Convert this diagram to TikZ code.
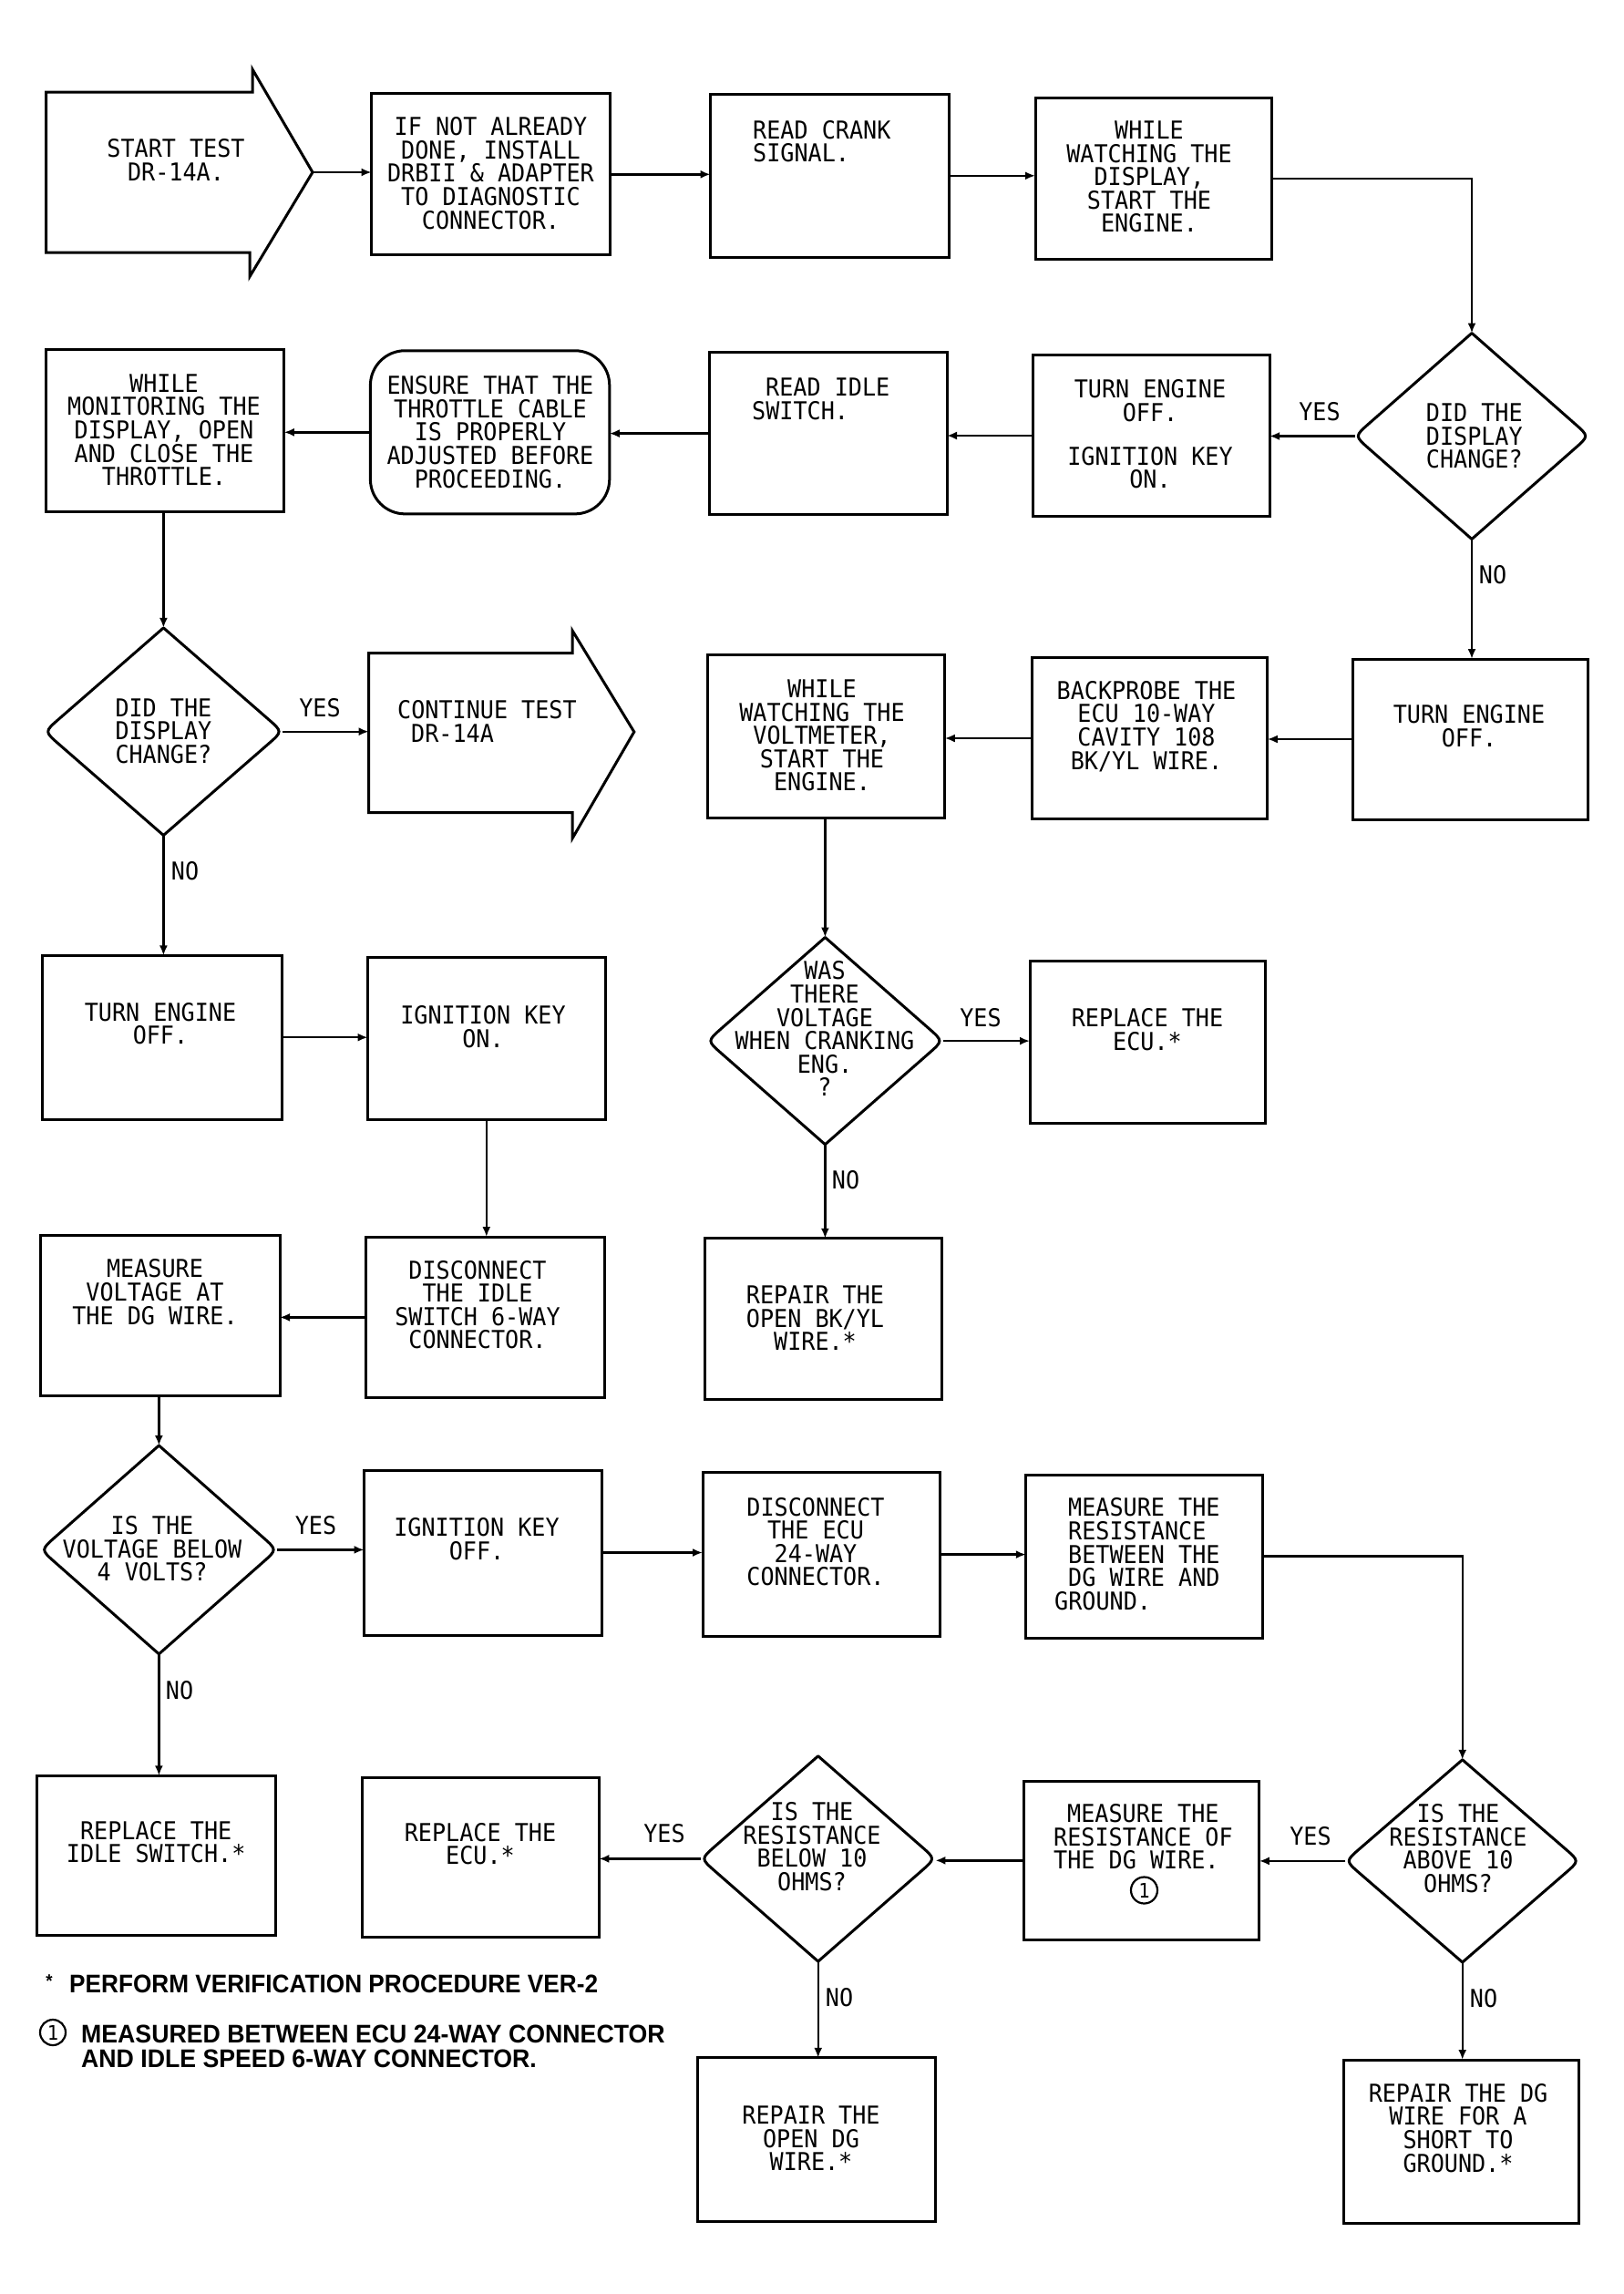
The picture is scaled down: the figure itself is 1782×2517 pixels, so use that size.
\documentclass[tikz,border=0pt]{standalone}
\usepackage{fontspec}
\usetikzlibrary{arrows.meta,shapes.geometric,calc}
\newfontfamily\dfont{DejaVu Sans Mono}[FakeStretch=0.93]
\newfontfamily\nfont{Liberation Sans}[FakeStretch=0.935]
\newfontfamily\nfontb{Liberation Sans}[FakeStretch=0.953]
\newcommand\drawdia[1]{%
  \draw[dline] (#1.north) -- ($(#1.east)!0.12!(#1.north)$) .. controls (#1.east) .. ($(#1.east)!0.12!(#1.south)$)
  -- (#1.south) -- ($(#1.west)!0.12!(#1.south)$) .. controls (#1.west) .. ($(#1.west)!0.12!(#1.north)$) -- cycle;}
\tikzset{
  bx/.style={draw, line width=3pt, rectangle, inner sep=0pt, outer sep=0pt},
  txt/.style={font=\dfont\fontsize{27}{25.6}\selectfont, align=center, inner sep=0pt, anchor=north},
  txl/.style={font=\dfont\fontsize{27}{25.6}\selectfont, align=left, inner sep=0pt, anchor=north west},
  lab/.style={font=\dfont\fontsize{27}{25.6}\selectfont, inner sep=0pt},
  dia/.style={shape=diamond, draw=none, inner sep=0pt, outer sep=0pt},
  dline/.style={line width=3pt, line join=round},
  bigarrow/.style={line width=3pt, line join=miter},
  con/.style={line width=2.4pt, -{Latex[length=11pt,width=9pt]}},
  note/.style={font=\nfont\bfseries\fontsize{28}{28}\selectfont, inner sep=0pt, anchor=base west},
  noteb/.style={font=\nfontb\bfseries\fontsize{28}{28}\selectfont, inner sep=0pt, anchor=base west},
  cnum/.style={draw, circle, line width=2.2pt, inner sep=0pt, minimum size=29pt, font=\dfont\fontsize{22}{22}\selectfont},
}
\begin{document}
\begin{tikzpicture}[x=1pt,y=-1pt]
\useasboundingbox (0,0) rectangle (1782,2517);
\fill[white] (0,0) rectangle (1782,2517);

% ---------- row 1 ----------
\draw[bigarrow] (50.5,101) -- (277,101) -- (277,76) -- (343,189) -- (274,303.5) -- (274,277) -- (50.5,277) -- cycle;
\coordinate (sa) at (343,189);
\node[txt] (tsa) at (193,152.6) {START TEST\\DR-14A.};

\node[bx, minimum width=261.8pt, minimum height=177pt] (b2) at (538.5,191.3) {};
\node[txt] (t2) at (538.5,128.5) {IF NOT ALREADY\\DONE, INSTALL\\DRBII \& ADAPTER\\TO DIAGNOSTIC\\CONNECTOR.};

\node[bx, minimum width=261.4pt, minimum height=178.4pt] (b3) at (910.3,192.8) {};
\node[txl] (t3) at (826,132) {READ CRANK\\SIGNAL.};

\node[bx, minimum width=259pt, minimum height=177.4pt] (b4) at (1265.5,195.7) {};
\node[txt] (t4) at (1261,132.7) {WHILE\\WATCHING THE\\DISPLAY,\\START THE\\ENGINE.};

% ---------- row 2 ----------
\node[bx, minimum width=261.7pt, minimum height=178.8pt] (b5) at (180.9,472.4) {};
\node[txt] (t5) at (180,410.4) {WHILE\\MONITORING THE\\DISPLAY, OPEN\\AND CLOSE THE\\THROTTLE.};

\node[bx, rounded corners=38pt, minimum width=262.4pt, minimum height=179.1pt] (b6) at (537.6,474.3) {};
\node[txt] (t6) at (538,412.5) {ENSURE THAT THE\\THROTTLE CABLE\\IS PROPERLY\\ADJUSTED BEFORE\\PROCEEDING.};

\node[bx, minimum width=260.6pt, minimum height=178.3pt] (b7) at (908.7,475.6) {};
\node[txl] (t7) at (825,414.6) {\hspace*{15pt}READ IDLE\\SWITCH.};

\node[bx, minimum width=259.3pt, minimum height=176.6pt] (b8) at (1263.4,478) {};
\node[txt] (t8) at (1262,416.7) {TURN ENGINE\\OFF.\\[22pt]IGNITION KEY\\ON.};

\node[dia, minimum width=257pt, minimum height=226pt] (d1) at (1615,478.5) {};
\drawdia{d1}
\node[txl] (td1) at (1564.7,442.8) {DID THE\\DISPLAY\\CHANGE?};

% ---------- row 3 ----------
\node[dia, minimum width=261.2pt, minimum height=227.6pt] (d2) at (179.4,802.7) {};
\drawdia{d2}
\node[txl] (td2) at (126.3,766.5) {DID THE\\DISPLAY\\CHANGE?};

\draw[bigarrow] (404.7,716.7) -- (628,716.7) -- (628,691.8) -- (695.8,803) -- (628,920) -- (628,891.7) -- (404.7,891.7) -- cycle;
\coordinate (cal) at (404.7,803);
\node[txl] (tca) at (436,768.5) {CONTINUE TEST\\\hspace*{15pt}DR-14A};

\node[bx, minimum width=260.2pt, minimum height=178.2pt] (b11) at (906.7,807.9) {};
\node[txt] (t11) at (902,745.7) {WHILE\\WATCHING THE\\VOLTMETER,\\START THE\\ENGINE.};

\node[bx, minimum width=258.8pt, minimum height=177.4pt] (b10) at (1261.4,810) {};
\node[txt] (t10) at (1258,747) {BACKPROBE THE\\ECU 10-WAY\\CAVITY 108\\BK/YL WIRE.};

\node[bx, minimum width=257.3pt, minimum height=176pt] (b9) at (1613.4,811) {};
\node[txt] (t9) at (1612,773.5) {TURN ENGINE\\OFF.};

% ---------- row 4 ----------
\node[bx, minimum width=263pt, minimum height=179.6pt] (b14) at (177.5,1138.2) {};
\node[txt] (t14) at (176,1100) {TURN ENGINE\\OFF.};

\node[bx, minimum width=260.4pt, minimum height=178.3pt] (b15) at (533.8,1139.6) {};
\node[txt] (t15) at (530,1103.5) {IGNITION KEY\\ON.};

\node[dia, minimum width=258.7pt, minimum height=227.2pt] (d3) at (905.4,1142.1) {};
\drawdia{d3}
\node[txt] (td3) at (905,1054.6) {WAS\\THERE\\VOLTAGE\\WHEN CRANKING\\ENG.\\?};

\node[bx, minimum width=258.7pt, minimum height=178.3pt] (b12) at (1259.4,1143.8) {};
\node[txt] (t12) at (1259,1106.4) {REPLACE THE\\ECU.*};

% ---------- row 5 ----------
\node[bx, minimum width=262.2pt, minimum height=176.2pt] (b17) at (175.9,1443.6) {};
\node[txt] (t17) at (170,1381.6) {MEASURE\\VOLTAGE AT\\THE DG WIRE.};

\node[bx, minimum width=261.2pt, minimum height=176.7pt] (b16) at (532.4,1445.4) {};
\node[txt] (t16) at (524,1382.8) {DISCONNECT\\THE IDLE\\SWITCH 6-WAY\\CONNECTOR.};

\node[bx, minimum width=260pt, minimum height=177pt] (b13) at (903,1447.3) {};
\node[txt] (t13) at (894.5,1410.6) {REPAIR THE\\OPEN BK/YL\\WIRE.*};

% ---------- row 6 ----------
\node[dia, minimum width=259.2pt, minimum height=228.8pt] (d4) at (174.4,1700.4) {};
\drawdia{d4}
\node[txt] (td4) at (167,1663.5) {IS THE\\VOLTAGE BELOW\\4 VOLTS?};

\node[bx, minimum width=260.5pt, minimum height=181pt] (b18) at (529.8,1703.5) {};
\node[txt] (t18) at (523,1665.6) {IGNITION KEY\\OFF.};

\node[bx, minimum width=260pt, minimum height=179.5pt] (b19) at (901,1705.6) {};
\node[txt] (t19) at (895,1642.8) {DISCONNECT\\THE ECU\\24-WAY\\CONNECTOR.};

\node[bx, minimum width=259.5pt, minimum height=179pt] (b20) at (1255.6,1707.5) {};
\node[txl] (t20) at (1157,1643.6) {\hspace*{15pt}MEASURE THE\\\hspace*{15pt}RESISTANCE\\\hspace*{15pt}BETWEEN THE\\\hspace*{15pt}DG WIRE AND\\GROUND.};

% ---------- row 7 ----------
\node[bx, minimum width=262.5pt, minimum height=175.5pt] (b23) at (171.3,2036) {};
\node[txt] (t23) at (171.2,1997.8) {REPLACE THE\\IDLE SWITCH.*};

\node[bx, minimum width=260.3pt, minimum height=175.1pt] (b22) at (527.2,2037.9) {};
\node[txt] (t22) at (527,1999.8) {REPLACE THE\\ECU.*};

\node[dia, minimum width=257.4pt, minimum height=225.3pt] (d5) at (897.7,2039.4) {};
\drawdia{d5}
\node[txt] (td5) at (891,1977.5) {IS THE\\RESISTANCE\\BELOW 10\\OHMS?};

\node[bx, minimum width=258.8pt, minimum height=174.6pt] (b21) at (1252.4,2041.3) {};
\node[txl] (t21) at (1156,1979.5) {\hspace*{15pt}MEASURE THE\\RESISTANCE OF\\THE DG WIRE.};
\node[cnum] (c21) at (1255.5,2074) {1};

\node[dia, minimum width=256.6pt, minimum height=222.2pt] (d6) at (1604.7,2041.9) {};
\drawdia{d6}
\node[txt] (td6) at (1600,1979.5) {IS THE\\RESISTANCE\\ABOVE 10\\OHMS?};

% ---------- row 8 ----------
\node[bx, minimum width=260.8pt, minimum height=179.6pt] (b24) at (896,2347.6) {};
\node[txt] (t24) at (890,2310.6) {REPAIR THE\\OPEN DG\\WIRE.*};

\node[bx, minimum width=258.1pt, minimum height=179.4pt] (b25) at (1603.4,2349.7) {};
\node[txt] (t25) at (1600,2286) {REPAIR THE DG\\WIRE FOR A\\SHORT TO\\GROUND.*};

% ---------- connectors ----------
\draw[con] (sa) -- (sa -| b2.west);
\draw[con] (b2.east) -- (b2.east -| b3.west);
\draw[con] (b3.east) -- (b3.east -| b4.west);
\draw[con] (b4.east) -| (d1.north);
\draw[con] (d1.west) -- (d1.west -| b8.east);
\draw[con] (b8.west) -- (b8.west -| b7.east);
\draw[con] (b7.west) -- (b7.west -| b6.east);
\draw[con] (b6.west) -- (b6.west -| b5.east);
\draw[con] (d2.north |- b5.south) -- (d2.north);
\draw[con] (d2.east) -- (d2.east -| cal);
\draw[con] (d2.south) -- (d2.south |- b14.north);
\draw[con] (d1.south) -- (d1.south |- b9.north);
\draw[con] (b9.west) -- (b9.west -| b10.east);
\draw[con] (b10.west) -- (b10.west -| b11.east);
\draw[con] (d3.north |- b11.south) -- (d3.north);
\draw[con] (d3.east) -- (d3.east -| b12.west);
\draw[con] (d3.south) -- (d3.south |- b13.north);
\draw[con] (b14.east) -- (b14.east -| b15.west);
\draw[con] (b15.south) -- (b15.south |- b16.north);
\draw[con] (b16.west) -- (b16.west -| b17.east);
\draw[con] (d4.north |- b17.south) -- (d4.north);
\draw[con] (d4.east) -- (d4.east -| b18.west);
\draw[con] (d4.south) -- (d4.south |- b23.north);
\draw[con] (b18.east) -- (b18.east -| b19.west);
\draw[con] (b19.east) -- (b19.east -| b20.west);
\draw[con] (b20.east) -| (d6.north);
\draw[con] (d6.west) -- (d6.west -| b21.east);
\draw[con] (b21.west) -- (b21.west -| d5.east);
\draw[con] (d5.west) -- (d5.west -| b22.east);
\draw[con] (d5.south) -- (d5.south |- b24.north);
\draw[con] (d6.south) -- (d6.south |- b25.north);

% ---------- labels ----------
\node[lab] (y1) at (1448,452) {YES};
\node[lab] (n1) at (1638,631) {NO};
\node[lab] (y2) at (351,777) {YES};
\node[lab] (n2) at (203,956) {NO};
\node[lab] (y3) at (1076,1117) {YES};
\node[lab] (n3) at (928,1295) {NO};
\node[lab] (y4) at (346.5,1674) {YES};
\node[lab] (n4) at (197,1854.7) {NO};
\node[lab] (y5) at (729,2012) {YES};
\node[lab] (n5) at (921,2192) {NO};
\node[lab] (y6) at (1438,2015) {YES};
\node[lab] (n6) at (1628,2193) {NO};

% ---------- notes ----------
\node[font=\nfont\bfseries\fontsize{20}{20}\selectfont, inner sep=0pt] (ast) at (54,2174) {*};
\node[note] (nt1) at (76,2186.7) {PERFORM VERIFICATION PROCEDURE VER-2};
\node[cnum, minimum size=28pt] (c0) at (58,2230) {1};
\node[noteb] (nt2) at (89,2241.6) {MEASURED BETWEEN ECU 24-WAY CONNECTOR};
\node[noteb] (nt3) at (89,2268) {AND IDLE SPEED 6-WAY CONNECTOR.};
\end{tikzpicture}
\end{document}
